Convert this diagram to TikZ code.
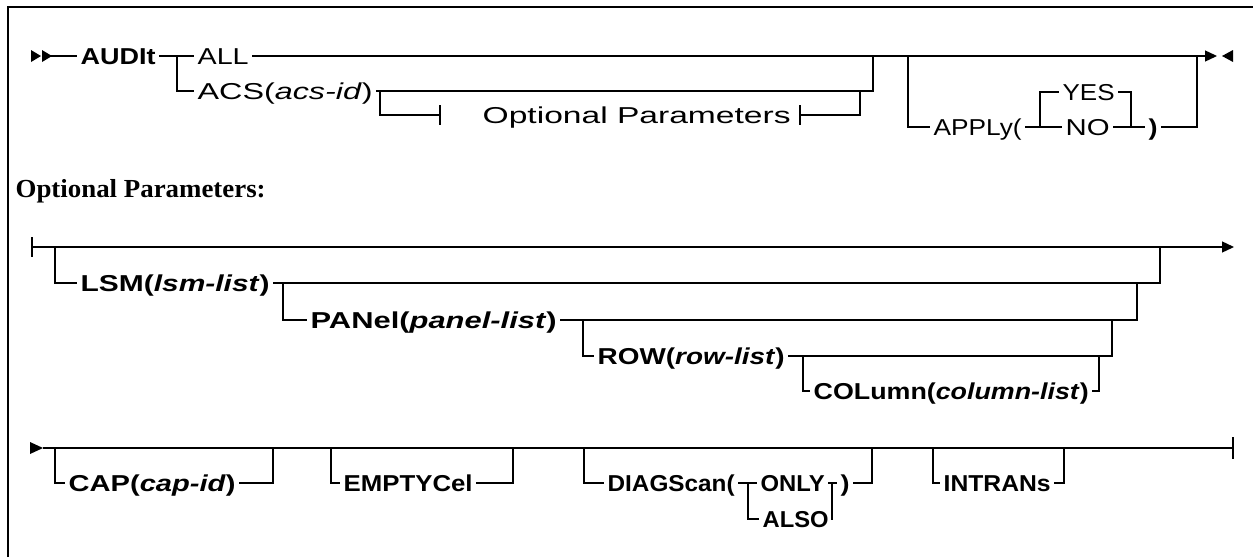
\documentclass[tikz,border=0pt]{standalone}
\usepackage{fontspec}
\usepackage{graphicx}
\setmainfont{Liberation Sans}
\newfontfamily\headfont{Liberation Serif}
\usetikzlibrary{arrows.meta}
\newcommand{\fw}[2]{\resizebox{#1pt}{\height}{#2}}
\begin{document}
\begin{tikzpicture}[x=1pt,y=-1pt,line width=1.3pt,
  lbl/.style={anchor=west,inner xsep=3pt,inner ysep=0pt,text height=16.5pt,text depth=0pt,font=\fontsize{23}{23}\selectfont},
  bl/.style={lbl,font=\fontsize{23}{23}\selectfont\bfseries},
  endtip/.style={-{Triangle[length=12pt,width=11pt]}},
  tick/.style={line width=1.3pt},
]
\useasboundingbox (0,0) rectangle (1253,557);
% frame
\draw[line width=1.8pt] (8,557) -- (8,7) -- (1253,7);

% ---------------- top row ----------------
\fill (31,50) -- (41,56) -- (31,62) -- cycle;
\fill (42,50) -- (52,56) -- (42,62) -- cycle;
\coordinate (s1) at (50,56);
\node[bl] (audit) at (77,56) {\fw{75}{AUDIt}};
\coordinate (jA) at (177,56);
\coordinate (jA2) at (177,91);
\node[lbl] (all) at (194,56) {\fw{51}{ALL}};
\node[lbl] (acs) at (194,91) {\fw{175}{ACS(\textit{acs-id})}};
\coordinate (e1) at (1217,56);
\draw (s1) -- (audit.west);
\draw (audit.east) -- (all.west);
\draw (jA) -- (jA2) -- (acs.west);
\draw[endtip] (all.east) -- (e1);
\fill (1233,50) -- (1222,56) -- (1233,62) -- cycle;
% ACS group
\coordinate (jB) at (873,56);
\coordinate (jC) at (380,91);
\coordinate (jC2) at (380,115);
\coordinate (t1) at (440,115);
\coordinate (t2) at (800,115);
\coordinate (jD) at (860,91);
\coordinate (jD2) at (860,115);
\node[lbl] (opt) at (479,115) {\fw{308}{Optional Parameters}};
\draw (acs.east) -| (jB);
\draw (jC) -- (jC2) -- (t1);
\draw[tick] (440,105) -- (440,125);
\draw[tick] (800,105) -- (800,125);
\draw (t2) -- (jD2) -- (jD);
% APPLY group
\coordinate (jE) at (908,56);
\coordinate (jE2) at (908,127);
\coordinate (jF) at (1197,56);
\coordinate (jF2) at (1197,127);
\coordinate (jG) at (1040,92);
\coordinate (jG2) at (1040,127);
\coordinate (jH) at (1131,92);
\coordinate (jH2) at (1131,127);
\node[lbl] (apply) at (930,127) {\fw{88}{APPLy(}};
\node[lbl] (yes) at (1059,92) {\fw{52}{YES}};
\node[lbl] (no) at (1062,127) {\fw{44}{NO}};
\node[bl] (rp1) at (1145,127) {\fw{9}{)}};
\draw (jE) -- (jE2) -- (apply.west);
\draw (apply.east) -- (no.west);
\draw (jG2) -- (jG) -- (yes.west);
\draw (yes.east) -- (jH) -- (jH2);
\draw (no.east) -- (rp1.west);
\draw (rp1.east) -- (jF2) -- (jF);

% heading
\node[anchor=base west,inner sep=0pt,font=\headfont\bfseries\fontsize{26}{26}\selectfont] (head) at (15,197) {\fw{250}{Optional Parameters:}};

% ---------------- optional parameters row ----------------
\coordinate (o0) at (32,247);
\coordinate (o1) at (1234,247);
\draw[tick] (32,237) -- (32,257);
\draw[endtip] (o0) -- (o1);
\coordinate (k1) at (55,247);  \coordinate (k1b) at (55,283);
\coordinate (k2) at (1160,247); \coordinate (k2b) at (1160,283);
\coordinate (k3) at (283,283); \coordinate (k3b) at (283,320);
\coordinate (k4) at (1137,283); \coordinate (k4b) at (1137,320);
\coordinate (k5) at (583,320); \coordinate (k5b) at (583,356);
\coordinate (k6) at (1112,320); \coordinate (k6b) at (1112,356);
\coordinate (k7) at (803,356); \coordinate (k7b) at (803,391);
\coordinate (k8) at (1099,356); \coordinate (k8b) at (1099,391);
\node[bl] (lsm) at (77,283) {\fw{189}{LSM(\textit{lsm-list})}};
\node[bl] (pan) at (307,320) {\fw{246}{PANel(\textit{panel-list})}};
\node[bl] (row) at (594,356) {\fw{187}{ROW(\textit{row-list})}};
\node[bl] (col) at (810,391) {\fw{275}{COLumn(\textit{column-list})}};
\draw (k1) -- (k1b) -- (lsm.west);
\draw (lsm.east) -- (k2b) -- (k2);
\draw (k3) -- (k3b) -- (pan.west);
\draw (pan.east) -- (k4b) -- (k4);
\draw (k5) -- (k5b) -- (row.west);
\draw (row.east) -- (k6b) -- (k6);
\draw (k7) -- (k7b) -- (col.west);
\draw (col.east) -- (k8b) -- (k8);

% ---------------- bottom row ----------------
\fill (30,442) -- (43,448) -- (30,454) -- cycle;
\coordinate (b0) at (43,448);
\coordinate (b1) at (1233,448);
\draw (b0) -- (b1);
\draw[tick] (1233,437) -- (1233,459);
\coordinate (m1) at (55,448);  \coordinate (m1b) at (55,483);
\coordinate (m2) at (273,448); \coordinate (m2b) at (273,483);
\coordinate (m3) at (331,448); \coordinate (m3b) at (331,483);
\coordinate (m4) at (513,448); \coordinate (m4b) at (513,483);
\coordinate (m5) at (584,448); \coordinate (m5b) at (584,483);
\coordinate (m6) at (748,483); \coordinate (m6b) at (748,519);
\coordinate (m7) at (832,483); \coordinate (m7b) at (832,519);
\coordinate (m8) at (872,448); \coordinate (m8b) at (872,483);
\coordinate (m9) at (933,448); \coordinate (m9b) at (933,483);
\coordinate (m10) at (1064,448); \coordinate (m10b) at (1064,483);
\node[bl] (cap) at (65,483) {\fw{167}{CAP(\textit{cap-id})}};
\node[bl] (emp) at (340,483) {\fw{129}{EMPTYCel}};
\node[bl] (diag) at (604,483) {\fw{127}{DIAGScan(}};
\node[bl] (only) at (757,483) {\fw{64}{ONLY}};
\node[bl] (also) at (759,519) {\fw{66}{ALSO}};
\node[bl] (rp2) at (837,483) {\fw{9}{)}};
\node[bl] (intr) at (940,483) {\fw{107}{INTRANs}};
\draw (m1) -- (m1b) -- (cap.west);
\draw (cap.east) -- (m2b) -- (m2);
\draw (m3) -- (m3b) -- (emp.west);
\draw (emp.east) -- (m4b) -- (m4);
\draw (m5) -- (m5b) -- (diag.west);
\draw (diag.east) -- (only.west);
\draw (m6) -- (m6b) -- (also.west);
\draw (also.east) -- (m7b) -- (m7);
\draw (only.east) -- (rp2.west);
\draw (rp2.east) -- (m8b) -- (m8);
\draw (m9) -- (m9b) -- (intr.west);
\draw (intr.east) -- (m10b) -- (m10);
\end{tikzpicture}
\end{document}
